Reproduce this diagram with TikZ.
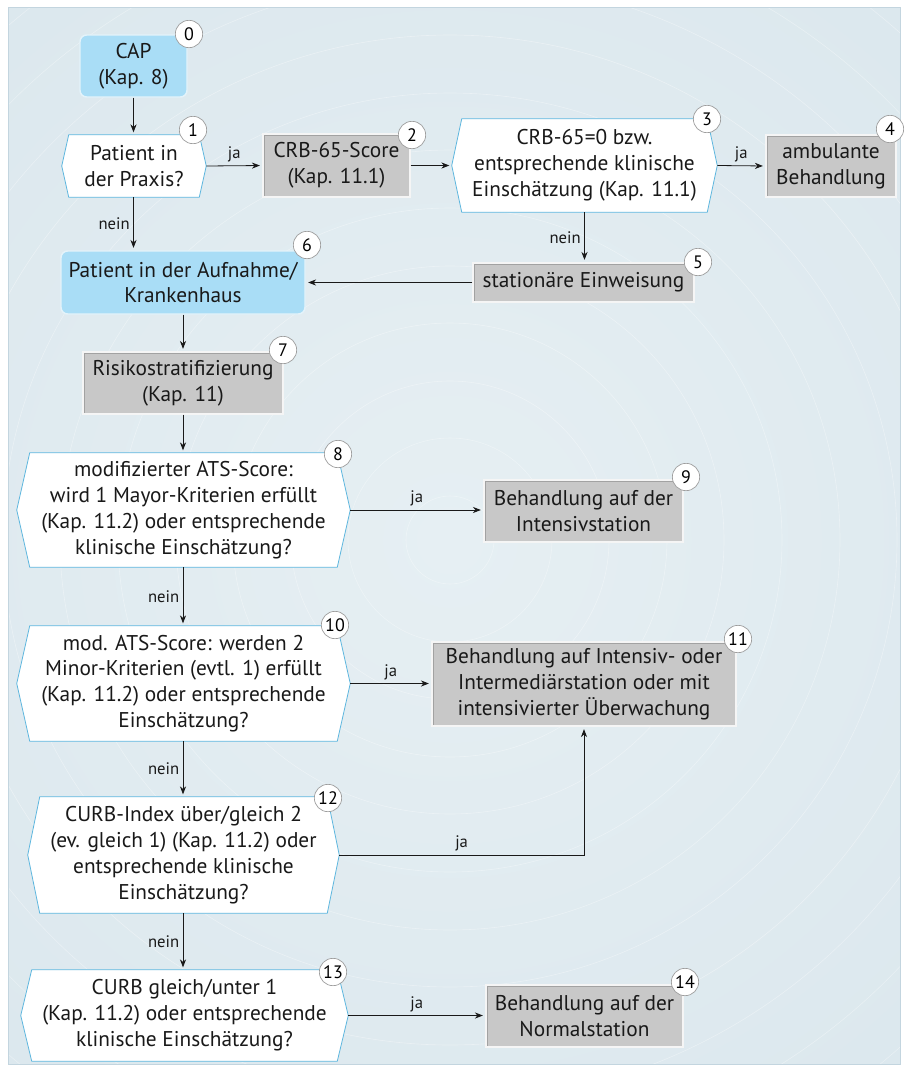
\documentclass[tikz,border=0pt]{standalone}
\usepackage{fontspec}
\setmainfont{PT Sans}
\usetikzlibrary{arrows.meta,backgrounds,calc}

\definecolor{panelout}{HTML}{D2E1E9}
\definecolor{panelin}{HTML}{E6EFF3}
\definecolor{paneledge}{HTML}{C3D5DF}
\definecolor{boxgray}{HTML}{C8C8C8}
\definecolor{boxinner}{HTML}{A2A2A2}
\definecolor{capblue}{HTML}{A9DDF6}
\definecolor{capedge}{HTML}{E4F3FA}
\definecolor{hexline}{HTML}{5DB6DE}
\definecolor{badgeedge}{HTML}{9C9C9C}

% hexagonal decision outline behind a (borderless) node
\newcommand\hexoutline[2]{%
  \begin{scope}[on background layer]
    \draw[fill=white, draw=hexline, line width=0.6pt]
      (#1.west) -- ($(#1.north west)+(#2,0)$) -- ($(#1.north east)+(-#2,0)$)
      -- (#1.east) -- ($(#1.south east)+(-#2,0)$) -- ($(#1.south west)+(#2,0)$) -- cycle;
  \end{scope}}

\tikzset{
  txt/.style={font=\fontsize{16}{19.4}\selectfont, align=center, text=black!90, inner sep=0pt},
  wh/.style 2 args={minimum width=#1*0.75pt, minimum height=#2*0.75pt},
  graybox/.style={txt, rectangle, fill=boxgray, draw=white!92!gray, line width=1.1pt,
    path picture={\draw[boxinner, line width=0.4pt]
      ([shift={(0.9pt,-0.9pt)}]path picture bounding box.north west) rectangle
      ([shift={(-0.9pt,0.9pt)}]path picture bounding box.south east);}},
  bluebox/.style={txt, rectangle, rounded corners=5pt, fill=capblue, draw=capedge, line width=1.1pt},
  hexnode/.style={txt, rectangle, draw=none},
  badge/.style={circle, fill=white, draw=badgeedge, line width=0.5pt, minimum size=20.5pt,
    inner sep=0pt, font=\fontsize{13.5}{13.5}\selectfont},
  arr/.style={-{Stealth[length=6pt,width=4.6pt]}, line width=0.6pt, draw=black!90, shorten >=1.8pt},
  lbl/.style={font=\fontsize{12.5}{14}\selectfont, text=black!90, inner sep=2.5pt},
}

\begin{document}
\begin{tikzpicture}[x=0.75pt, y=-0.75pt]
\useasboundingbox (0,0) rectangle (904,1071);

% panel with soft concentric rings
\begin{scope}[on background layer]
  \begin{scope}
    \clip (8,7) rectangle (900,1064);
    \shade[inner color=panelin, outer color=panelout] (450,540) circle (1350*0.75pt);
    \foreach \r in {44,102,159,217,274,332,390,447,505,562,620,678,735}
      \draw[white, opacity=0.35, line width=0.45pt] (450,540) circle (\r*0.75pt);
  \end{scope}
  \draw[paneledge, line width=0.5pt] (8,7) rectangle (900,1064);
\end{scope}

% process steps
\node[bluebox, wh={107}{62}] (n0) at (133.5,66) {CAP\\(Kap. 8)};
\node[hexnode, wh={144}{62}] (n1) at (134,166) {Patient in\\der Praxis?};
\node[graybox, wh={147}{63}] (n2) at (336.5,165.5) {CRB-65-Score\\(Kap. 11.1)};
\node[hexnode, wh={265}{93}] (n3) at (584.5,165.5) {CRB-65=0 bzw.\\entsprechende klinische\\Einschätzung (Kap. 11.1)};
\node[graybox, wh={130}{62}] (n4) at (831,166) {ambulante\\Behandlung};
\node[graybox, wh={221}{39}] (n5) at (583.5,282.5) {stationäre Einweisung};
\node[bluebox, wh={244}{63}] (n6) at (183,282.5) {Patient in der Aufnahme/\\Krankenhaus};
\node[graybox, wh={200}{62}] (n7) at (183,383) {Risikostratifizierung\\(Kap. 11)};
\node[hexnode, wh={333}{114}] (n8) at (183.5,510) {modifizierter ATS-Score:\\wird 1 Mayor-Kriterien erfüllt\\(Kap. 11.2) oder entsprechende\\klinische Einschätzung?};
\node[graybox, wh={199}{62}] (n9) at (583.5,511) {Behandlung auf der\\Intensivstation};
\node[hexnode, wh={333}{115}] (n10) at (183.5,683.5) {mod. ATS-Score: werden 2\\Minor-Kriterien (evtl. 1) erfüllt\\(Kap. 11.2) oder entsprechende\\Einschätzung?};
\node[graybox, wh={304}{84}] (n11) at (584,684) {Behandlung auf Intensiv- oder\\Intermediärstation oder mit\\intensivierter Überwachung};
\node[hexnode, wh={311}{116}] (n12) at (183.5,855) {CURB-Index über/gleich 2\\(ev. gleich 1) (Kap. 11.2) oder\\entsprechende klinische\\Einschätzung?};
\node[hexnode, wh={327}{91}] (n13) at (184.5,1015.5) {CURB gleich/unter 1\\(Kap. 11.2) oder entsprechende\\klinische Einschätzung?};
\node[graybox, wh={197}{62}] (n14) at (584.5,1016) {Behandlung auf der\\Normalstation};

\hexoutline{n1}{7}
\hexoutline{n3}{10}
\hexoutline{n8}{13}
\hexoutline{n10}{13}
\hexoutline{n12}{12}
\hexoutline{n13}{11}

% step numbers
\node[badge] (b0) at (189,34) {0};
\node[badge] (b1) at (193,130) {1};
\node[badge] (b2) at (412,135) {2};
\node[badge] (b3) at (707,119) {3};
\node[badge] (b4) at (890,129) {4};
\node[badge] (b5) at (698,262) {5};
\node[badge] (b6) at (307,245) {6};
\node[badge] (b7) at (283,350) {7};
\node[badge] (b8) at (338,454) {8};
\node[badge] (b9) at (686,477) {9};
\node[badge] (b10) at (335,625) {10};
\node[badge] (b11) at (738,639) {11};
\node[badge] (b12) at (328,798) {12};
\node[badge] (b13) at (333,972) {13};
\node[badge] (b14) at (685,982) {14};

% connectors
\draw[arr] (n0) -- (n0.south |- n1.north);
\draw[arr] (n1.east) -- node[lbl, above] {ja} (n2.west);
\draw[arr] (n2.east) -- (n3.west);
\draw[arr] (n3.east) -- node[lbl, above] {ja} (n4.west);
\draw[arr] (n3.south) -- node[lbl, left] {nein} (n3.south |- n5.north);
\draw[arr] (n5.west) -- (n5.west -| n6.east);
\draw[arr] (n1.south -| n0.south) -- node[lbl, left] {nein} (n0.south |- n6.north);
\draw[arr] (n6.south) -- (n7.north);
\draw[arr] (n7.south) -- (n7.south |- n8.north);
\draw[arr] (n8.south -| n7.south) -- node[lbl, left] {nein} (n7.south |- n10.north);
\draw[arr] (n8.east) -- node[lbl, above] {ja} (n8.east -| n9.west);
\draw[arr] (n10.east) -- node[lbl, above] {ja} (n10.east -| n11.west);
\draw[arr] (n10.south -| n7.south) -- node[lbl, left] {nein} (n7.south |- n12.north);
\draw[arr] (n12.east) -| node[lbl, above, pos=0.25] {ja} (n11.south);
\draw[arr] (n12.south -| n7.south) -- node[lbl, left] {nein} (n7.south |- n13.north);
\draw[arr] (n13.east) -- node[lbl, above] {ja} (n13.east -| n14.west);
\end{tikzpicture}
\end{document}
